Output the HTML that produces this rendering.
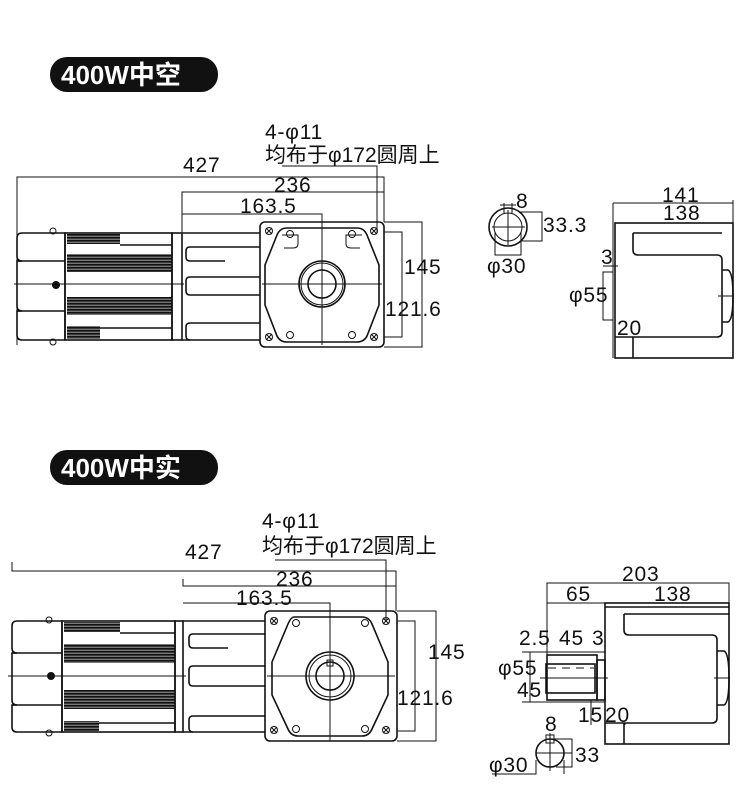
<!DOCTYPE html>
<html><head><meta charset="utf-8"><style>
html,body{margin:0;padding:0;background:#fff}
svg{display:block}
text{font-family:"Liberation Sans","Noto Sans CJK SC",sans-serif;font-size:21px;letter-spacing:0.8px;fill:#111}
.l{stroke:#111;stroke-width:1.6;fill:none}
.t{stroke:#111;stroke-width:1;fill:none}
.f{fill:#111}
.s{fill:url(#fin)}
</style></head><body>
<svg width="750" height="799" viewBox="0 0 750 799" xmlns="http://www.w3.org/2000/svg">
<defs>
<pattern id="fin" width="4" height="3" patternUnits="userSpaceOnUse">
<rect width="4" height="3" fill="#777"/><rect width="4" height="1.6" fill="#111"/>
</pattern>
</defs>
<!-- Labels -->
<rect x="50" y="57" width="168" height="35" rx="17" class="f"/>
<text x="61" y="84" style="font-size:26px;font-weight:bold;letter-spacing:0;fill:#fff">400W中空</text>
<rect x="50" y="450" width="168" height="35" rx="17" class="f"/>
<text x="61" y="477" style="font-size:26px;font-weight:bold;letter-spacing:0;fill:#fff">400W中实</text>

<!-- ===== TOP MAIN VIEW ===== -->
<g>
<polyline class="t" points="17,345 17,177 384,177 384,222"/>
<text x="183" y="172">427</text>
<polyline class="t" points="182,232 182,192 384,192"/>
<text x="274" y="192">236</text>
<polyline class="t" points="182,214 322,214 322,345"/>
<text x="240" y="213">163.5</text>
<polyline class="t" points="282,166 377,166 377,232"/>
<text x="265" y="139">4-φ11</text>
<text x="265" y="162" style="letter-spacing:0">均布于φ172圆周上</text>
<polyline class="t" points="384,222 422,222 422,347 384,347"/>
<text x="404" y="274">145</text>
<polyline class="t" points="384,232 402,232 402,337 384,337"/>
<text x="385" y="316">121.6</text>
<path class="l" d="M65,233 L22,233 Q17,233 17,238 L17,256 Q17,261 22,261 L17,261 L17,306 Q17,311 22,311 L17,311 L17,335 Q17,340 22,340 L65,340 Z"/>
<line class="l" x1="17" y1="261" x2="65" y2="261"/><line class="l" x1="17" y1="311" x2="65" y2="311"/>
<circle cx="53" cy="231" r="3" class="t"/><circle cx="53" cy="342" r="3" class="t"/>
<circle cx="56" cy="285" r="4" class="f"/>
<rect x="65" y="233" width="107" height="107" class="l"/>
<rect x="67" y="234" width="53" height="10" class="s"/>
<rect x="67" y="254" width="105" height="18" class="s"/>
<rect x="67" y="297" width="105" height="18" class="s"/>
<rect x="67" y="326" width="33" height="13" class="s"/>
<line class="l" x1="120" y1="245" x2="172" y2="245"/>
<line class="l" x1="100" y1="328" x2="172" y2="328"/>
<rect x="172" y="233" width="10" height="107" class="l"/>
<path class="l" d="M182,233 L260,233 M182,340 L260,340"/>
<path class="l" d="M260,247 L190,247 Q186,247 186,251 L186,257 Q186,261 190,261 L225,261"/>
<path class="l" d="M260,277 L190,277 Q186,277 186,281 L186,291 Q186,295 190,295 L260,295"/>
<path class="l" d="M260,323 L190,323 Q186,323 186,327 L186,336 Q186,340 190,340"/>
<line class="t" x1="14" y1="284" x2="184" y2="284"/>
<rect x="260" y="222" width="124" height="125" rx="5" class="l"/>
<path class="l" d="M287,228 L357,228 Q364,228 367,235 L379,265 L379,305 L367,336 Q364,342 357,342 L287,342 Q280,342 277,336 L265,305 L265,265 L277,235 Q280,228 287,228 Z"/>
<path class="t" d="M282,235 L298,235 L298,244 Q298,248 293,248 L284,248"/>
<path class="t" d="M362,235 L346,235 L346,244 Q346,248 351,248 L360,248"/>
<circle cx="322" cy="284" r="23" class="l"/><circle cx="322" cy="284" r="21" class="t"/>
<circle cx="322" cy="284" r="14" class="l"/>
<line class="t" x1="262" y1="284" x2="382" y2="284"/>
<g class="t">
<circle cx="269" cy="231" r="3.5"/><path d="M266,228l6,6M272,228l-6,6"/>
<circle cx="374" cy="231" r="3.5"/><path d="M371,228l6,6M377,228l-6,6"/>
<circle cx="269" cy="337" r="3.5"/><path d="M266,334l6,6M272,334l-6,6"/>
<circle cx="374" cy="337" r="3.5"/><path d="M371,334l6,6M377,334l-6,6"/>
<circle cx="290" cy="234" r="3.5"/><circle cx="352" cy="234" r="3.5"/>
<circle cx="290" cy="335" r="3.5"/><circle cx="352" cy="335" r="3.5"/>
</g>
</g>

<!-- ===== TOP RIGHT ===== -->
<g>
<circle cx="508" cy="227" r="19" class="l"/><circle cx="508" cy="227" r="14" class="t"/>
<path class="t" d="M504,203 L504,213 M512,203 L512,213 M500,205 L516,205"/>
<line class="t" x1="492" y1="227" x2="525" y2="227"/><line class="t" x1="508" y1="210" x2="508" y2="245"/>
<text x="516" y="208">8</text>
<polyline class="t" points="520,212 542,212 542,241 520,241"/>
<text x="543" y="232">33.3</text>
<polyline class="t" points="495,232 495,255 521,255 521,232"/>
<text x="487" y="273">φ30</text>
<line class="t" x1="613" y1="203" x2="733" y2="203"/>
<line class="t" x1="613" y1="203" x2="613" y2="358"/>
<line class="t" x1="733" y1="200" x2="733" y2="224"/>
<text x="662" y="202">141</text>
<text x="663" y="220">138</text>
<rect x="615" y="223" width="118" height="135" class="l"/>
<path class="l" d="M633,233 L722,233 M633,233 L633,250 Q633,255 638,255 L717,255 Q722,255 722,260 L722,332 Q722,337 717,337 L615,337"/>
<line class="l" x1="633" y1="337" x2="633" y2="358"/>
<path class="l" d="M722,270 L728,270 Q733,272 733,296 Q733,320 728,322 L722,322"/>
<line class="t" x1="718" y1="296" x2="734" y2="296"/>
<polyline class="t" points="613,272 603,272 603,320 613,320"/>
<line class="t" x1="603" y1="266" x2="618" y2="266"/>
<text x="601" y="264">3</text>
<text x="569" y="302">φ55</text>
<text x="617" y="335">20</text>
</g>

<!-- ===== BOTTOM MAIN VIEW ===== -->
<g>
<polyline class="t" points="12,562 12,571 396,571 396,611"/>
<text x="185" y="559">427</text>
<polyline class="t" points="183,579 183,586 396,586"/>
<text x="276" y="586">236</text>
<polyline class="t" points="183,603 330,603 330,741"/>
<text x="236" y="605">163.5</text>
<polyline class="t" points="275,560 386,560 386,620"/>
<text x="262" y="528">4-φ11</text>
<text x="262" y="553" style="letter-spacing:0">均布于φ172圆周上</text>
<polyline class="t" points="397,611 436,611 436,741 397,741"/>
<text x="428" y="659">145</text>
<polyline class="t" points="397,621 415,621 415,731 397,731"/>
<text x="397" y="705">121.6</text>
<path class="l" d="M62,621 L17,621 Q12,621 12,626 L12,648 Q12,653 17,653 L12,653 L12,700 Q12,705 17,705 L12,705 L12,727 Q12,732 17,732 L62,732 Z"/>
<line class="l" x1="12" y1="653" x2="62" y2="653"/><line class="l" x1="12" y1="705" x2="62" y2="705"/>
<circle cx="49" cy="620" r="3" class="t"/><circle cx="49" cy="733" r="3" class="t"/>
<circle cx="51" cy="676" r="4" class="f"/>
<rect x="62" y="621" width="113" height="111" class="l"/>
<rect x="64" y="622" width="56" height="10" class="s"/>
<rect x="64" y="644" width="111" height="19" class="s"/>
<rect x="64" y="690" width="111" height="19" class="s"/>
<rect x="64" y="721" width="35" height="10" class="s"/>
<line class="l" x1="120" y1="633" x2="175" y2="633"/>
<line class="l" x1="99" y1="723" x2="175" y2="723"/>
<rect x="175" y="621" width="8" height="111" class="l"/>
<path class="l" d="M183,621 L265,621 M183,732 L265,732"/>
<path class="l" d="M265,634 L193,634 Q189,634 189,638 L189,644 Q189,648 193,648 L228,648"/>
<path class="l" d="M265,666 L193,666 Q189,666 189,670 L189,682 Q189,686 193,686 L265,686"/>
<path class="l" d="M265,716 L193,716 Q189,716 189,720 L189,728 Q189,732 193,732"/>
<line class="t" x1="8" y1="676" x2="186" y2="676"/>
<rect x="265" y="611" width="132" height="130" rx="5" class="l"/>
<path class="l" d="M294,617 L362,617 Q369,617 372,624 L388,662 L388,695 L372,729 Q369,736 362,736 L298,736 Q291,736 288,729 L272,695 L272,662 L288,624 Q291,617 294,617 Z"/>
<circle cx="330" cy="676" r="24" class="l"/><circle cx="330" cy="676" r="21" class="t"/>
<circle cx="330" cy="676" r="14" class="l"/>
<rect x="327" y="660" width="6" height="6" class="t"/>
<line class="t" x1="267" y1="676" x2="395" y2="676"/>
<g class="t">
<circle cx="274" cy="621" r="3.5"/><path d="M271,618l6,6M277,618l-6,6"/>
<circle cx="386" cy="621" r="3.5"/><path d="M383,618l6,6M389,618l-6,6"/>
<circle cx="274" cy="730" r="3.5"/><path d="M271,727l6,6M277,727l-6,6"/>
<circle cx="386" cy="730" r="3.5"/><path d="M383,727l6,6M389,727l-6,6"/>
<circle cx="296" cy="623" r="3.5"/><circle cx="365" cy="623" r="3.5"/>
<circle cx="296" cy="729" r="3.5"/><circle cx="365" cy="729" r="3.5"/>
</g>
</g>

<!-- ===== BOTTOM RIGHT ===== -->
<g>
<polyline class="t" points="547,700 547,583 729,583 729,744"/>
<text x="622" y="581">203</text>
<line class="t" x1="547" y1="603" x2="729" y2="603"/>
<text x="566" y="601">65</text>
<text x="654" y="601">138</text>
<rect x="605" y="603" width="124" height="141" class="l"/>
<line class="l" x1="605" y1="607" x2="729" y2="607"/>
<path class="l" d="M624,614 L624,630 Q624,635 629,635 L712,635 Q717,635 717,640 L717,718 Q717,723 712,723 L605,723"/>
<line class="l" x1="624" y1="614" x2="729" y2="614"/>
<line class="l" x1="624" y1="723" x2="624" y2="744"/>
<path class="l" d="M717,651 L724,651 Q729,653 729,678 Q729,703 724,705 L717,705"/>
<line class="t" x1="714" y1="678" x2="730" y2="678"/>
<rect x="547" y="655" width="50" height="45" class="l"/>
<rect x="546" y="664" width="49" height="29" class="l"/>
<line class="t" x1="548" y1="668" x2="594" y2="668" stroke-dasharray="8,6"/>
<rect x="597" y="660" width="8" height="40" class="l"/>
<line class="t" x1="540" y1="678" x2="608" y2="678"/>
<polyline class="t" points="522,652 605,652"/>
<polyline class="t" points="522,702 605,702"/>
<line class="t" x1="530" y1="652" x2="530" y2="702"/>
<text x="519" y="645">2.5</text><text x="559" y="645">45</text><text x="592" y="645">3</text>
<text x="498" y="675">φ55</text>
<text x="517" y="697">45</text>
<text x="578" y="722">15</text><text x="605" y="722">20</text>
<line class="t" x1="591" y1="700" x2="591" y2="725"/>
<line class="t" x1="625" y1="723" x2="625" y2="725"/>
<circle cx="550" cy="753" r="14" class="l"/>
<rect x="546" y="735" width="8" height="8" class="t"/>
<line class="t" x1="536" y1="753" x2="572" y2="753"/><line class="t" x1="550" y1="733" x2="550" y2="771"/>
<text x="545" y="731">8</text>
<polyline class="t" points="554,739 572,739 572,767 556,767"/>
<text x="575" y="762">33</text>
<polyline class="t" points="536,760 536,774 492,774"/>
<line class="t" x1="564" y1="760" x2="564" y2="774"/>
<text x="489" y="772">φ30</text>
</g>
</svg>
</body></html>
